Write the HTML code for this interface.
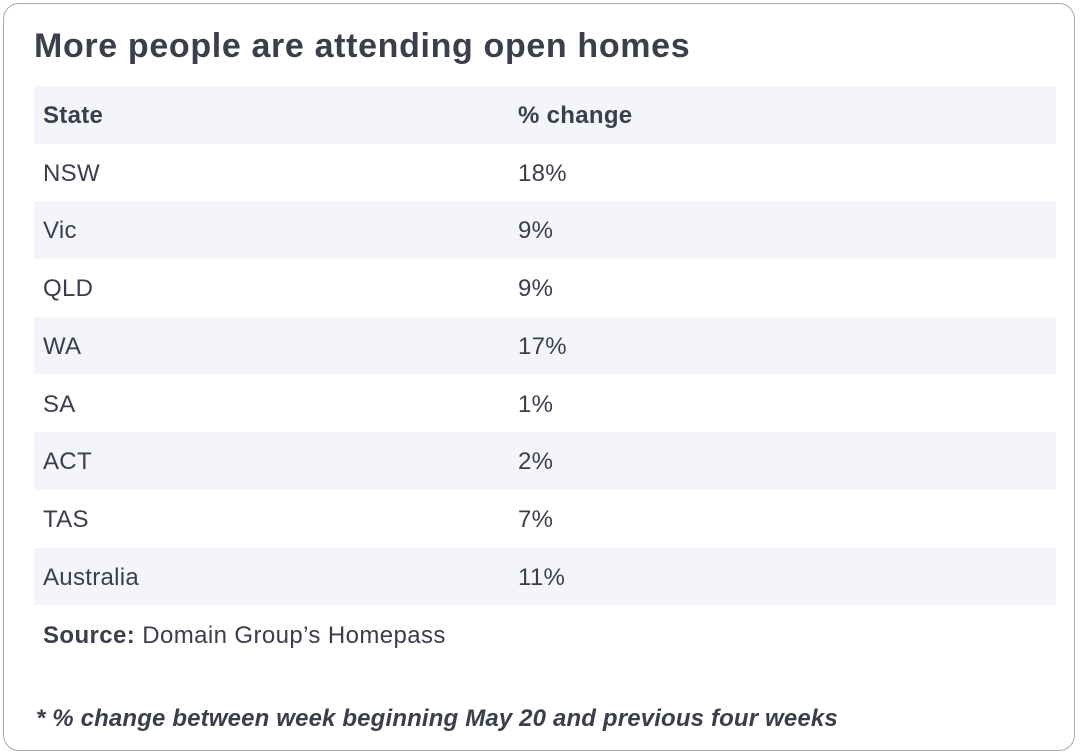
<!DOCTYPE html>
<html><head><meta charset="utf-8"><style>
html,body{margin:0;padding:0;background:#fff;}
body{width:1080px;height:756px;position:relative;font-family:"Liberation Sans",sans-serif;color:#3b3e4b;overflow:hidden;}
.card{position:absolute;left:3px;top:3px;width:1072px;height:748px;border:1.5px solid #a9a9ad;border-radius:16px;box-sizing:border-box;}
h1{position:absolute;left:34px;top:27px;margin:0;font-size:34px;font-weight:bold;color:#3b3e4b;letter-spacing:0.65px;}
.row{position:absolute;left:34px;width:1022px;height:57.7px;font-size:24px;line-height:59px;letter-spacing:0.3px;}
.row.s{background:#f4f5fa;}
.row span{position:absolute;left:9px;}
.row span.b{left:484px;}
.h{font-weight:bold;}
.src{position:absolute;left:43px;top:622px;font-size:24px;letter-spacing:0.4px;}
.fn{position:absolute;left:36px;top:705px;font-size:24px;font-style:italic;font-weight:bold;letter-spacing:0.15px;}
</style></head><body>
<div class="card"></div>
<h1>More people are attending open homes</h1>
<div class="row s h" style="top:86px"><span>State</span><span class="b">% change</span></div>
<div class="row" style="top:143.7px"><span>NSW</span><span class="b">18%</span></div>
<div class="row s" style="top:201.4px"><span>Vic</span><span class="b">9%</span></div>
<div class="row" style="top:259.1px"><span>QLD</span><span class="b">9%</span></div>
<div class="row s" style="top:316.8px"><span>WA</span><span class="b">17%</span></div>
<div class="row" style="top:374.5px"><span>SA</span><span class="b">1%</span></div>
<div class="row s" style="top:432.2px"><span>ACT</span><span class="b">2%</span></div>
<div class="row" style="top:489.9px"><span>TAS</span><span class="b">7%</span></div>
<div class="row s" style="top:547.6px"><span>Australia</span><span class="b">11%</span></div>
<div class="src"><b>Source:</b> Domain Group’s Homepass</div>
<div class="fn">* % change between week beginning May 20 and previous four weeks</div>
</body></html>
